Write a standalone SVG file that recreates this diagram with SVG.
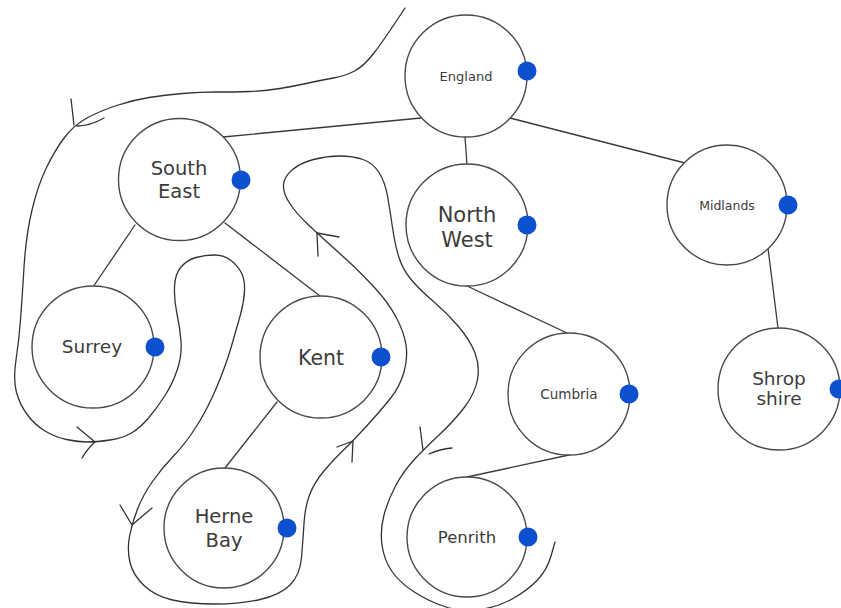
<svg xmlns="http://www.w3.org/2000/svg" width="841" height="608" viewBox="0 0 841 608">
  <style>
    .node circle.ring { fill: #ffffff; stroke: #4a4a4a; stroke-width: 1.4; }
    .node circle.port { fill: #0d50cf; stroke: none; }
    .node text { font-family: "DejaVu Sans", "Noto Sans", sans-serif; fill: #3c3c3c; text-anchor: middle; }
    .edge { stroke: #3a3a3a; stroke-width: 1.3; fill: none; stroke-linecap: round; }
    .tour { stroke: #333333; stroke-width: 1.3; fill: none; stroke-linecap: round; stroke-linejoin: round; }
  </style>
  <rect width="841" height="608" fill="#ffffff"/>

  <g id="connectors">
    <!-- tree edges, drawn between circle rims -->
    <line class="edge" x1="223" y1="137" x2="421" y2="118"/>
    <line class="edge" x1="465" y1="137" x2="467" y2="165"/>
    <line class="edge" x1="510" y1="118" x2="685" y2="163"/>
    <line class="edge" x1="768" y1="248" x2="778" y2="328"/>
    <line class="edge" x1="467" y1="286" x2="567" y2="333"/>
    <line class="edge" x1="569" y1="455" x2="467" y2="477"/>
    <line class="edge" x1="135" y1="225" x2="93" y2="287"/>
    <line class="edge" x1="225" y1="223" x2="320" y2="296"/>
    <line class="edge" x1="277" y1="402" x2="225" y2="468"/>

    <!-- hand-drawn walk around the tree -->
    <path class="tour" d="M405,8 Q384,40 374,53 Q364,66 354.5,71 Q345,76 333.5,78 Q322,80 308.5,83 Q295,86 280,88.5 Q265,91 249,91.5 Q233,92 216.5,92 Q200,92 182.5,93.5 Q165,95 149,97.5 Q133,100 116.5,105.5 Q100,111 87,118 Q74,125 64.5,137.5 Q55,150 46.5,167.5 Q38,185 32,210 Q26,235 24,267.5 Q22,300 20.5,320 Q19,340 16,360 Q13,380 16.5,392.5 Q20,405 27.5,415 Q35,425 45,431 Q55,437 66.5,439.5 Q78,442 87.5,442 Q97,442 110,440 Q123,438 131.5,433 Q140,428 148.5,418 Q157,408 165,395.5 Q173,383 177.5,369 Q182,355 181,341.5 Q180,328 177,314 Q174,300 174.5,287 Q175,274 181,267 Q187,260 196,257.5 Q205,255 214.5,255 Q224,255 231,260.5 Q238,266 241.5,273 Q245,280 244.5,291 Q244,302 240.5,314.5 Q237,327 231.5,346 Q226,365 217,386.5 Q208,408 197,425.5 Q186,443 174,455.5 Q162,468 152.5,481.5 Q143,495 137.5,509 Q132,523 129.5,536.5 Q127,550 130,562.5 Q133,575 144,585.5 Q155,596 172.5,600 Q190,604 215,604 Q240,604 260,599.5 Q280,595 290,585 Q300,575 301.5,557.5 Q303,540 304,523.5 Q305,507 309.5,495 Q314,483 323.5,471.5 Q333,460 343,450.5 Q353,441 368,424.5 Q383,408 391.5,397 Q400,386 404,372 Q408,358 406,345 Q404,332 396,317 Q388,302 374,287 Q360,272 348.5,261.5 Q337,251 327,242 Q317,233 306.5,223 Q296,213 289.5,203 Q283,193 283.5,185 Q284,177 292,170 Q300,163 313.5,159.5 Q327,156 340,156 Q353,156 363,159.5 Q373,163 379,172.5 Q385,182 387.5,196 Q390,210 392.5,227.5 Q395,245 399,257.5 Q403,270 411.5,280 Q420,290 433.5,301.5 Q447,313 458.5,326.5 Q470,340 475,353 Q480,366 477.5,379.5 Q475,393 465,406.5 Q455,420 439,435 Q423,450 413,461 Q403,472 395.5,486 Q388,500 384,515 Q380,530 382,545 Q384,560 392,571.5 Q400,583 415,592.5 Q430,602 446,607 Q462,612 480,609.5 Q498,607 513,598.5 Q528,590 537.5,580 Q547,570 551,556 L555,542"/>

    <!-- open chevrons marking the direction of travel -->
    <path class="tour" d="M71,99 L74,125 M104,118 Q90,126 77,126"/>
    <path class="tour" d="M77,427 L95,442 M82,458 Q88,448 95,442"/>
    <path class="tour" d="M120,505 L132,525 M152,508 L132,525"/>
    <path class="tour" d="M337,447 L353,441 M352,462 L353,441"/>
    <path class="tour" d="M318,256 L317,233 M339,237 L317,233"/>
    <path class="tour" d="M420,427 L423,450 M429,454 Q440,449 452,448"/>
  </g>

  <g id="england" class="node">
    <circle class="ring" cx="466" cy="76" r="61"/>
    <text x="466" y="81" font-size="13">England</text>
    <circle class="port" cx="527" cy="71" r="9.5"/>
  </g>

  <g id="south-east" class="node">
    <circle class="ring" cx="179.5" cy="179.5" r="61"/>
    <text x="179" y="175" font-size="19.5">South</text>
    <text x="179" y="198" font-size="19.5">East</text>
    <circle class="port" cx="241" cy="180" r="9.5"/>
  </g>

  <g id="north-west" class="node">
    <circle class="ring" cx="467" cy="225" r="61"/>
    <text x="467" y="222" font-size="21">North</text>
    <text x="467" y="247" font-size="21">West</text>
    <circle class="port" cx="527" cy="225" r="9.5"/>
  </g>

  <g id="midlands" class="node">
    <circle class="ring" cx="727" cy="205" r="60"/>
    <text x="727" y="210" font-size="12.5">Midlands</text>
    <circle class="port" cx="788" cy="205" r="9.5"/>
  </g>

  <g id="surrey" class="node">
    <circle class="ring" cx="93" cy="347" r="61"/>
    <text x="92" y="353" font-size="18.5">Surrey</text>
    <circle class="port" cx="155" cy="347" r="9.5"/>
  </g>

  <g id="kent" class="node">
    <circle class="ring" cx="321" cy="357" r="61"/>
    <text x="321" y="365" font-size="20.5">Kent</text>
    <circle class="port" cx="381" cy="357" r="9.5"/>
  </g>

  <g id="herne-bay" class="node">
    <circle class="ring" cx="224" cy="528" r="60"/>
    <text x="224" y="523" font-size="19.5">Herne</text>
    <text x="224" y="547" font-size="19.5">Bay</text>
    <circle class="port" cx="287" cy="528" r="9.5"/>
  </g>

  <g id="cumbria" class="node">
    <circle class="ring" cx="569" cy="394" r="61"/>
    <text x="569" y="399" font-size="13.5">Cumbria</text>
    <circle class="port" cx="629" cy="394" r="9.5"/>
  </g>

  <g id="shropshire" class="node">
    <circle class="ring" cx="779" cy="389" r="61"/>
    <text x="779" y="385" font-size="18.5">Shrop</text>
    <text x="779" y="405" font-size="18.5">shire</text>
    <circle class="port" cx="839" cy="389" r="9.5"/>
  </g>

  <g id="penrith" class="node">
    <circle class="ring" cx="467" cy="537" r="60"/>
    <text x="467" y="543" font-size="16.5">Penrith</text>
    <circle class="port" cx="528" cy="537" r="9.5"/>
  </g>
</svg>
